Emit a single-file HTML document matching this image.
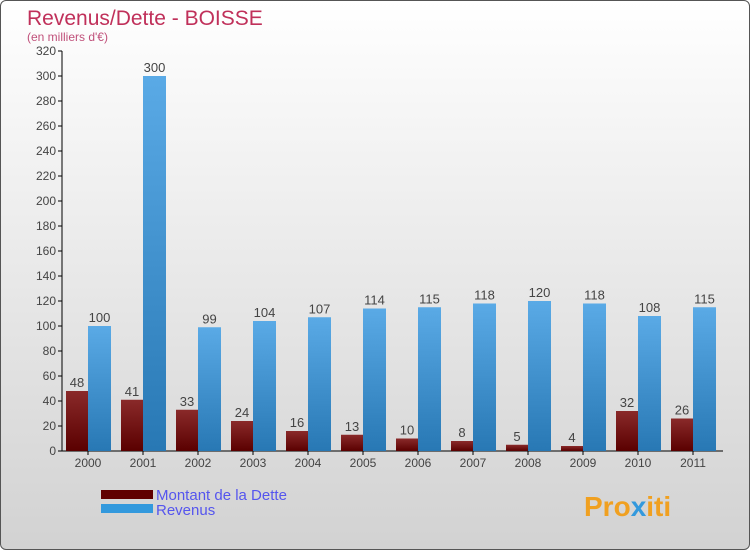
<!DOCTYPE html>
<html><head><meta charset="utf-8"><style>
body{margin:0;width:750px;height:550px;overflow:hidden;font-family:"Liberation Sans",sans-serif}
#wrap{position:absolute;left:0;top:0;width:748px;height:548px;border:1px solid #555;border-radius:6px;background:linear-gradient(#ffffff,#d2d2d2)}
</style></head><body>
<div id="wrap">
<svg width="750" height="550">
<defs>
<linearGradient id="gR" x1="0" y1="0" x2="0" y2="1"><stop offset="0" stop-color="#8a2a2a"/><stop offset="1" stop-color="#5a0000"/></linearGradient>
<linearGradient id="gB" x1="0" y1="0" x2="0" y2="1"><stop offset="0" stop-color="#5aaae6"/><stop offset="1" stop-color="#2878b4"/></linearGradient>
</defs>
<text x="26" y="24" font-size="21" fill="#c0305a">Revenus/Dette - BOISSE</text>
<text x="26" y="40" font-size="12" fill="#c0507a">(en milliers d'€)</text>
<g id="axes"></g><g id="bars"></g>
<rect x="100" y="489" width="52" height="9" fill="#600000"/>
<rect x="100" y="503" width="52" height="9" fill="#3399dd"/>
<text x="155" y="499" font-size="15" fill="#5555ee">Montant de la Dette</text>
<text x="155" y="514" font-size="15" fill="#5555ee">Revenus</text>
<text x="583" y="515" font-size="28" font-weight="bold" fill="#f0a020">Pro<tspan fill="#3399dd">x</tspan>iti</text>
</svg></div>
<script>
const years=["2000","2001","2002","2003","2004","2005","2006","2007","2008","2009","2010","2011"];
const dette=[48,41,33,24,16,13,10,8,5,4,32,26];
const revenus=[100,300,99,104,107,114,115,118,120,118,108,115];
const yTicks=[0,20,40,60,80,100,120,140,160,180,200,220,240,260,280,300,320];
const NS="http://www.w3.org/2000/svg";
const y=v=>450-v*1.25, x=i=>87+i*55;
function mk(t,a,p){const e=document.createElementNS(NS,t);for(const k in a)e.setAttribute(k,a[k]);p.appendChild(e);return e;}
const ax=document.getElementById('axes'),bg=document.getElementById('bars');
let l=mk('line',{x1:61,y1:50,x2:61,y2:450,stroke:'#000'},ax);


l=mk('line',{x1:61,y1:450,x2:722,y2:450,stroke:'#000'},ax);


yTicks.forEach(v=>{
 mk('line',{x1:57,x2:61,y1:y(v),y2:y(v),stroke:'#000'},ax);
 const t=mk('text',{x:55,y:y(v)+4,'text-anchor':'end','font-size':12,fill:'#444'},ax);t.textContent=v;
 
 
});
years.forEach((yr,i)=>{
 mk('line',{x1:x(i),x2:x(i),y1:450,y2:454,stroke:'#000'},ax);
 const t=mk('text',{x:x(i),y:466,'text-anchor':'middle','font-size':12,fill:'#444'},ax);t.textContent=yr;
 
 
 let r=mk('rect',{x:x(i)-22,y:y(dette[i]),width:22,height:450-y(dette[i]),fill:'url(#gR)'},bg);
 
 
 r=mk('rect',{x:x(i),y:y(revenus[i]),width:23,height:450-y(revenus[i]),fill:'url(#gB)'},bg);
 
 
 let tv=mk('text',{x:x(i)-11,y:y(dette[i])-4,'text-anchor':'middle','font-size':13,fill:'#444'},bg);tv.textContent=dette[i];
 
 
 tv=mk('text',{x:x(i)+11.5,y:y(revenus[i])-4,'text-anchor':'middle','font-size':13,fill:'#444'},bg);tv.textContent=revenus[i];
 
 
});
</script>
</body></html>
